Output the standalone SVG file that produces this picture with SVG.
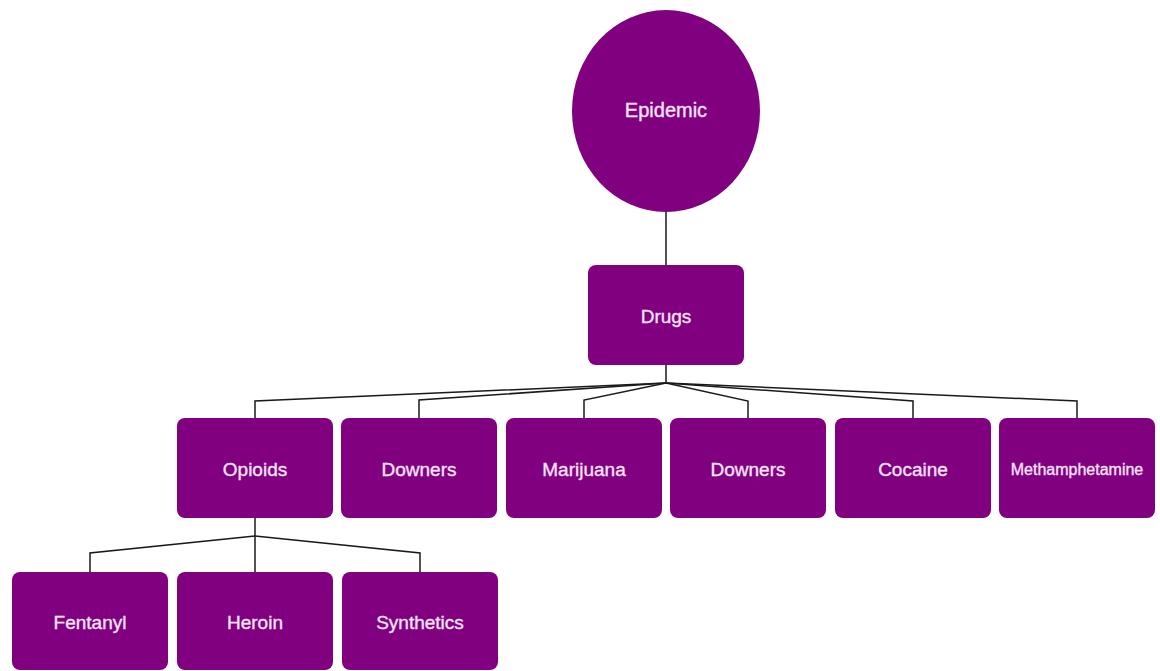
<svg xmlns="http://www.w3.org/2000/svg" width="1160" height="671" viewBox="0 0 1160 671">
  <style>
    .node { fill: #800080; }
    .label { fill: #f8e4f8; stroke: #f8e4f8; stroke-width: 0.35; font-family: "Liberation Sans", Arial, sans-serif; font-size: 19px; text-anchor: middle; dominant-baseline: central; }
    .big { font-size: 20px; }
    .small { font-size: 16px; }
    .link { fill: none; stroke: #1a1a1a; stroke-width: 1.5; }
  </style>
  <rect width="1160" height="671" fill="#ffffff"/>

  <!-- connectors -->
  <g id="connectors">
    <path class="link" d="M666 212 V265"/>
    <path class="link" d="M666 365 V383"/>
    <path class="link" d="M666 383 L255 401 V418"/>
    <path class="link" d="M666 383 L419 400 V418"/>
    <path class="link" d="M666 383 L584 400 V418"/>
    <path class="link" d="M666 383 L748 401 V418"/>
    <path class="link" d="M666 383 L913 401 V418"/>
    <path class="link" d="M666 383 L1077 401 V418"/>
    <path class="link" d="M255 518 V536"/>
    <path class="link" d="M255 536 L90 553 V572"/>
    <path class="link" d="M255 536 V572"/>
    <path class="link" d="M255 536 L420 553 V572"/>
  </g>

  <g id="epidemic">
    <ellipse class="node" cx="666" cy="111" rx="94" ry="101"/>
    <text class="label big" x="666" y="110">Epidemic</text>
  </g>
  <g id="drugs">
    <rect class="node" x="588" y="265" width="156" height="100" rx="8"/>
    <text class="label" x="666" y="316">Drugs</text>
  </g>

  <g id="opioids">
    <rect class="node" x="177" y="418" width="156" height="100" rx="8"/>
    <text class="label" x="255" y="469">Opioids</text>
  </g>
  <g id="downers-1">
    <rect class="node" x="341" y="418" width="156" height="100" rx="8"/>
    <text class="label" x="419" y="469">Downers</text>
  </g>
  <g id="marijuana">
    <rect class="node" x="506" y="418" width="156" height="100" rx="8"/>
    <text class="label" x="584" y="469">Marijuana</text>
  </g>
  <g id="downers-2">
    <rect class="node" x="670" y="418" width="156" height="100" rx="8"/>
    <text class="label" x="748" y="469">Downers</text>
  </g>
  <g id="cocaine">
    <rect class="node" x="835" y="418" width="156" height="100" rx="8"/>
    <text class="label" x="913" y="469">Cocaine</text>
  </g>
  <g id="methamphetamine">
    <rect class="node" x="999" y="418" width="156" height="100" rx="8"/>
    <text class="label small" x="1077" y="469">Methamphetamine</text>
  </g>

  <g id="fentanyl">
    <rect class="node" x="12" y="572" width="156" height="98" rx="8"/>
    <text class="label" x="90" y="622">Fentanyl</text>
  </g>
  <g id="heroin">
    <rect class="node" x="177" y="572" width="156" height="98" rx="8"/>
    <text class="label" x="255" y="622">Heroin</text>
  </g>
  <g id="synthetics">
    <rect class="node" x="342" y="572" width="156" height="98" rx="8"/>
    <text class="label" x="420" y="622">Synthetics</text>
  </g>
</svg>
